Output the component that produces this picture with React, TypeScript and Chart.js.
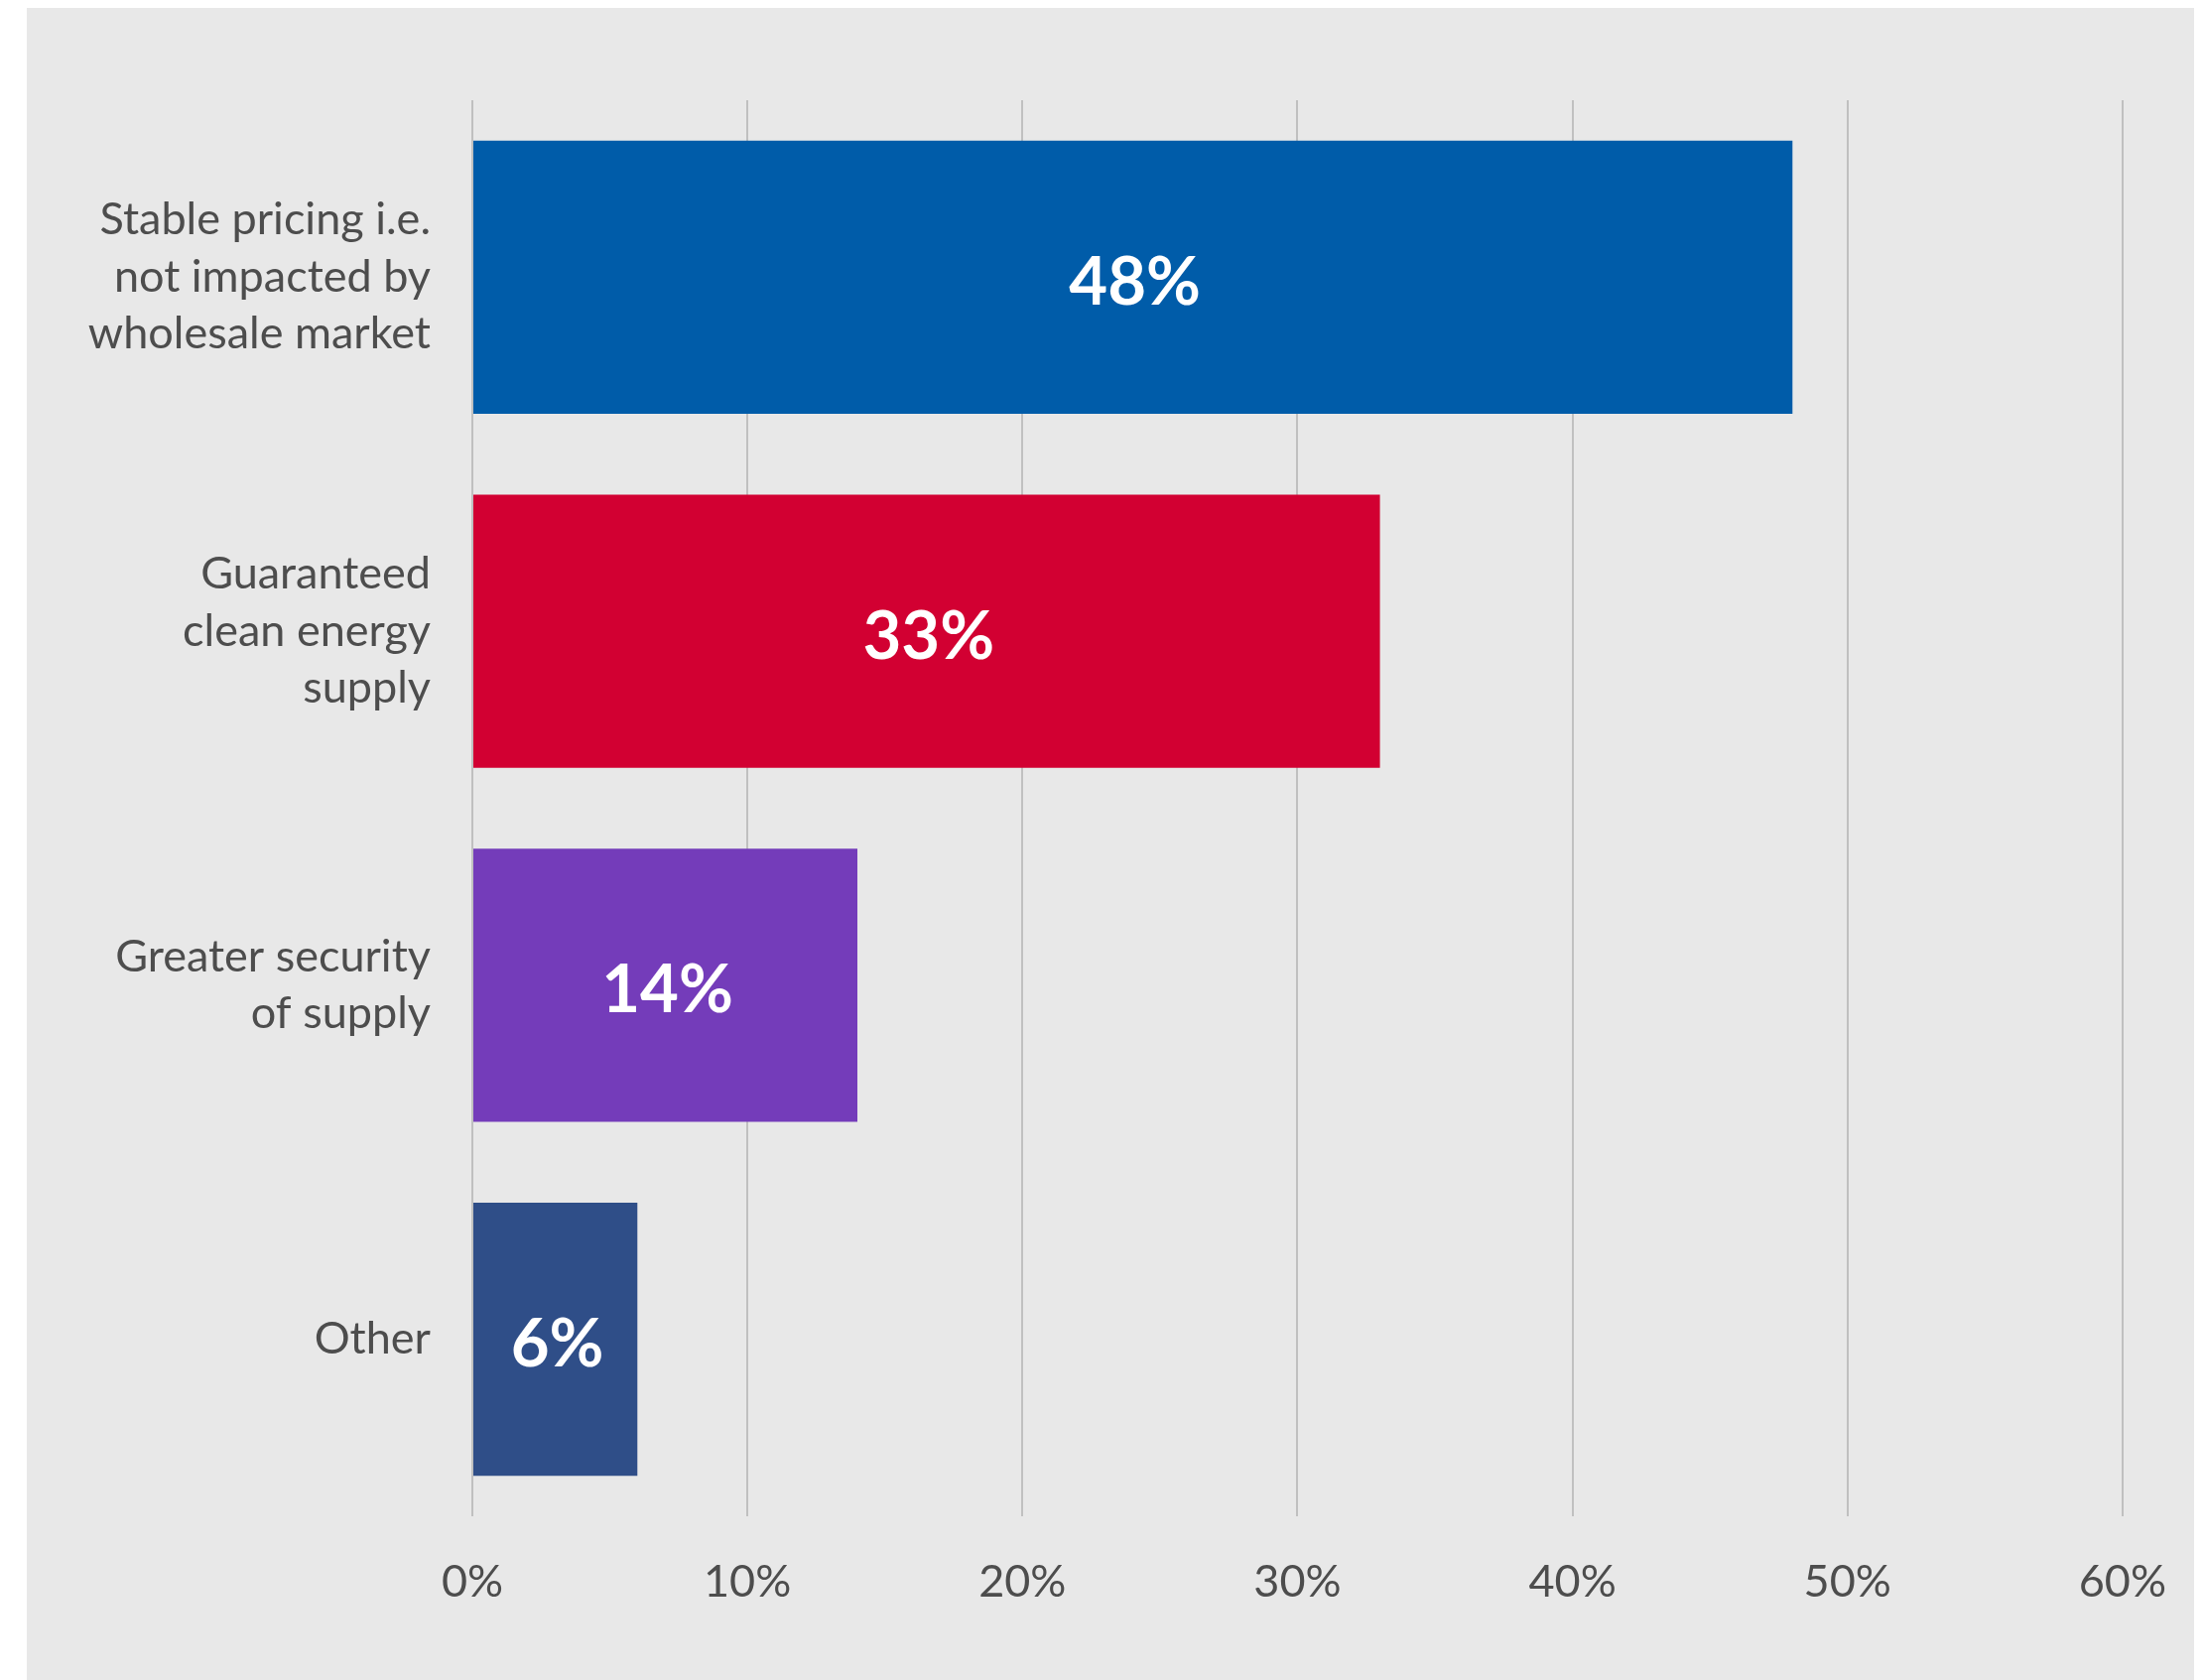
import React, { useEffect, useRef } from "react";
import { Chart, registerables } from "chart.js";

Chart.register(...registerables);

const categories: string[][] = [
  ["Stable pricing i.e.", "not impacted by", "wholesale market"],
  ["Guaranteed", "clean energy", "supply"],
  ["Greater security", "of supply"],
  ["Other"],
];
const values: number[] = [48, 33, 14, 6];
const barColors: string[] = ["#005CA9", "#D20032", "#743CBA", "#2F4E88"];
const xTickMin = 0;
const xTickMax = 60;
const xTickStep = 10;

const W = 2222;
const H = 1693;

const panelPlugin = {
  id: "panelBg",
  beforeDraw(chart: any) {
    const ctx = chart.ctx;
    ctx.save();
    ctx.fillStyle = "#FFFFFF";
    ctx.fillRect(0, 0, W, H);
    ctx.fillStyle = "#E8E8E8";
    ctx.fillRect(27, 8, 2211 - 27, H - 8);
    ctx.restore();
  },
};

const valueLabelPlugin = {
  id: "valueLabels",
  afterDatasetsDraw(chart: any) {
    const ctx = chart.ctx;
    const meta = chart.getDatasetMeta(0);
    ctx.save();
    ctx.fillStyle = "#FFFFFF";
    ctx.font = "bold 67px Lato";
    ctx.textAlign = "center";
    ctx.textBaseline = "middle";
    meta.data.forEach((bar: any, i: number) => {
      const cx = (bar.x + bar.base) / 2;
      ctx.fillText(values[i] + "%", cx + 2, bar.y + 6);
    });
    ctx.restore();
  },
};

export default function App() {
  const ref = useRef<HTMLCanvasElement | null>(null);
  useEffect(() => {
    if (!ref.current) return;
    const chart = new Chart(ref.current, {
      type: "bar",
      data: {
        labels: categories,
        datasets: [
          {
            data: values,
            backgroundColor: barColors,
            borderWidth: 0,
            categoryPercentage: 1,
            barPercentage: 0.771,
          },
        ],
      },
      options: {
        indexAxis: "y",
        responsive: false,
        animation: false,
        devicePixelRatio: 1,
        layout: { padding: { top: 101, right: 82, left: 0, bottom: 0 } },
        plugins: {
          legend: { display: false },
          tooltip: { enabled: false },
        },
        scales: {
          x: {
            min: xTickMin,
            max: xTickMax,
            ticks: {
              stepSize: xTickStep,
              callback: (v: any) => v + "%",
              color: "#4D4D4D",
              font: { family: "Lato", size: 45 },
              padding: 39,
            },
            grid: { color: "#C0C0C0", lineWidth: 2, drawTicks: false },
            border: { display: false },
            afterFit: (scale: any) => {
              scale.height = H - 1528;
            },
          },
          y: {
            ticks: {
              color: "#4D4D4D",
              font: { family: "Lato", size: 45, lineHeight: 1.28 },
              padding: 42,
            },
            grid: { display: false, drawTicks: false },
            border: { display: false },
            afterFit: (scale: any) => {
              scale.width = 476;
            },
          },
        },
      },
      plugins: [panelPlugin, valueLabelPlugin],
    });
    return () => chart.destroy();
  }, []);
  return (
    <div style={{ position: "fixed", left: 0, top: 0, width: W, height: H }}>
      <canvas ref={ref} width={W} height={H} style={{ width: W, height: H, display: "block" }} />
    </div>
  );
}
